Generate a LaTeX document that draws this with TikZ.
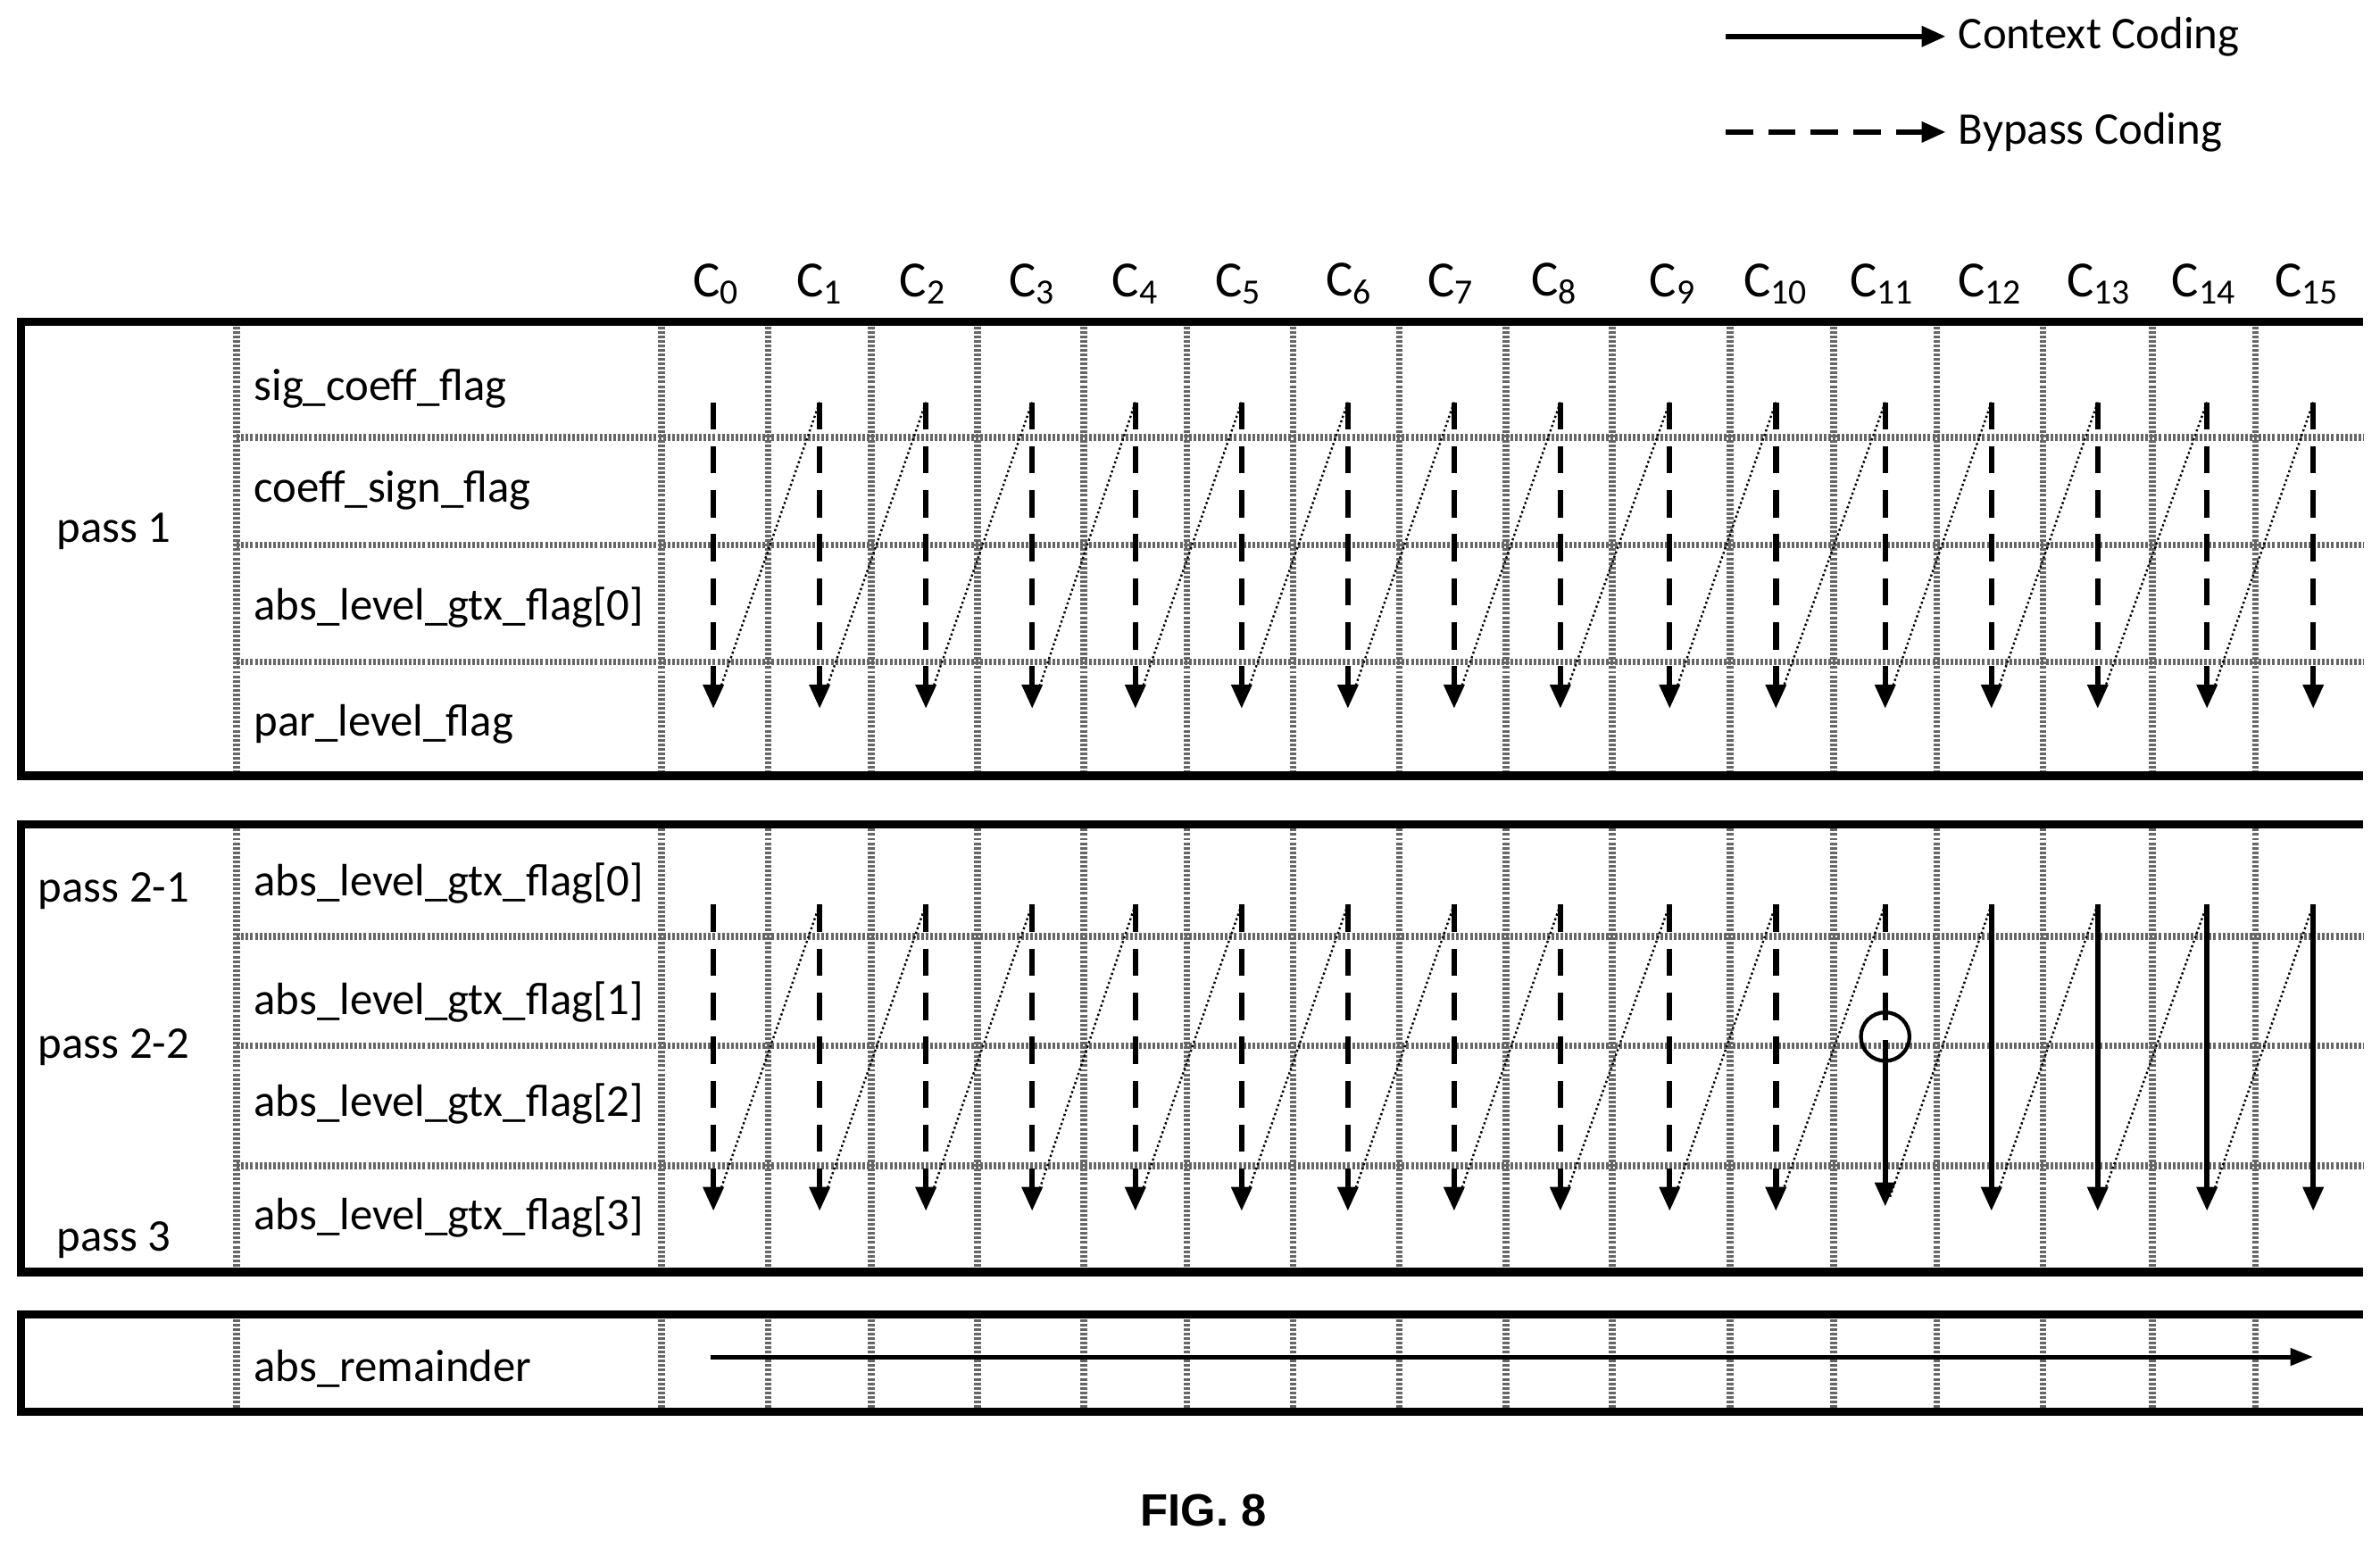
\documentclass[tikz,border=0pt]{standalone}
\usepackage{fontspec}
\setmainfont{Carlito}
\newfontfamily\figfont{Liberation Sans}
\usetikzlibrary{arrows.meta}
\begin{document}
\begin{tikzpicture}[x=0.02cm,y=-0.02cm,
  box/.style={line width=0.11cm},
  grid/.style={draw=black!60,line width=0.09cm,dash pattern=on 1pt off 0.7pt},
  ctx/.style={line width=0.075cm,-{Triangle[length=0.32cm,width=0.26cm]}},
  byp/.style={line width=0.075cm,dash pattern=on 0.36cm off 0.22cm,-{Triangle[length=0.32cm,width=0.26cm]}},
  diag/.style={line width=0.8pt,densely dotted},
  lbl/.style={font=\fontsize{17}{20}\selectfont,anchor=west,inner sep=0},
  plbl/.style={font=\fontsize{17}{20}\selectfont,inner sep=0}]
\useasboundingbox (0,0) rectangle (1568,1019);
% legend
\coordinate (l1a) at (1137,24); \coordinate (l1b) at (1282,24);
\draw[ctx] (l1a) -- (l1b);
\node[lbl] (lc) at (1290,24) {Context Coding};
\coordinate (l2a) at (1137,87); \coordinate (l2b) at (1282,87);
\draw[line width=0.075cm,dash pattern=on 0.36cm off 0.2cm,-{Triangle[length=0.32cm,width=0.26cm]}] (l2a) -- (l2b);
\node[lbl] (lb) at (1290,87) {Bypass Coding};
% column headers
\def\ax{{470,540,610,680,748,818,888,958,1028,1100,1170,1242,1312,1382,1454,1524}}
\foreach \i/\x in {0/472,1/540,2/608,3/680,4/748,5/816,6/889,7/956,8/1024,9/1102,10/1170,11/1240,12/1311,13/1383,14/1452,15/1520}
  \node[plbl,font=\fontsize{19}{22}\selectfont] (c\i) at (\x,187) {C\textsubscript{\i}};
% grid lines
\foreach \t/\b in {212/511,543/838,866/930}{
  \foreach \gx in {156,436,506,574,644,714,782,852,922,992,1062,1140,1208,1276,1346,1418,1486}
    \draw[grid] (\gx,\t) -- (\gx,\b);
}
\foreach \gy in {288,359,436,617,689,768}
  \draw[grid] (156,\gy) -- (1557,\gy);
% boxes
\draw[box] (1557,212) -- (14,212) -- (14,511) -- (1557,511);
\draw[box] (1557,543) -- (14,543) -- (14,838) -- (1557,838);
\draw[box] (1557,866) -- (14,866) -- (14,930) -- (1557,930);
% labels
\node[plbl] (p1) at (75,350) {pass 1};
\node[lbl] (r1) at (167,256) {sig\_coeff\_flag};
\node[lbl] (r2) at (167,323) {coeff\_sign\_flag};
\node[lbl] (r3) at (167,400) {abs\_level\_gtx\_flag[0]};
\node[lbl] (r4) at (167,477) {par\_level\_flag};
\node[plbl] (p21) at (75,587) {pass 2-1};
\node[plbl] (p22) at (75,690) {pass 2-2};
\node[plbl] (p3) at (75,817) {pass 3};
\node[lbl] (s1) at (167,582) {abs\_level\_gtx\_flag[0]};
\node[lbl] (s2) at (167,660) {abs\_level\_gtx\_flag[1]};
\node[lbl] (s3) at (167,727) {abs\_level\_gtx\_flag[2]};
\node[lbl] (s4) at (167,802) {abs\_level\_gtx\_flag[3]};
\node[lbl] (ar) at (167,902) {abs\_remainder};
% pass 1 arrows
\foreach \i in {0,...,15}{
  \pgfmathsetmacro{\x}{\ax[\i]}
  \draw[byp] (\x,265) -- (\x,467);
}
\foreach \i in {0,...,14}{
  \pgfmathsetmacro{\x}{\ax[\i]}
  \pgfmathsetmacro{\xn}{\ax[\i+1]}
  \draw[diag] (\xn,265) -- (\x+3,458);
  \draw[diag] (\xn,596) -- (\x+3,789);
}
% pass 2 arrows
\foreach \i in {0,...,10}{
  \pgfmathsetmacro{\x}{\ax[\i]}
  \draw[byp] (\x,596) -- (\x,798);
}
\draw[line width=0.075cm,dash pattern=on 0.36cm off 0.22cm] (1242,596) -- (1242,680);
\draw[ctx] (1242,685) -- (1242,795);
\node[draw,circle,line width=0.05cm,minimum width=0.64cm,inner sep=0] (circ) at (1242,683) {};
\foreach \x in {1312,1382,1454,1524}
  \draw[ctx] (\x,596) -- (\x,798);
% remainder
\coordinate (ra) at (468,894); \coordinate (rb) at (1524,894);
\draw[line width=0.06cm,-{Triangle[length=0.3cm,width=0.22cm]}] (ra) -- (rb);
\node[plbl,font=\figfont\bfseries\fontsize{17}{20}\selectfont] (fig) at (793,995) {FIG. 8};
\end{tikzpicture}
\end{document}
